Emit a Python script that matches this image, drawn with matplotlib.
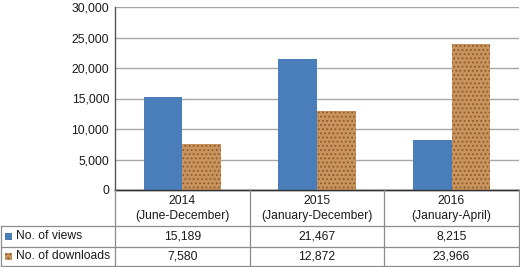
import matplotlib
matplotlib.use("Agg")
import matplotlib.pyplot as plt
from matplotlib.patches import Rectangle
import numpy as np

plt.rcParams['font.family'] = ['Liberation Sans', 'DejaVu Sans']
plt.rcParams['hatch.linewidth'] = 0.8

categories = ["2014\n(June-December)", "2015\n(January-December)", "2016\n(January-April)"]
series_names = ["No. of views", "No. of downloads"]
views = [15189, 21467, 8215]
downloads = [7580, 12872, 23966]
yticks = [0, 5000, 10000, 15000, 20000, 25000, 30000]

blue = '#4a7ebb'
cork = '#c8935c'
cork_dark = '#8a5a30'
grid_c = '#8c8c8c'
txt_c = '#1a1a1a'
fs = 8.7

W, H = 520, 267
fig = plt.figure(figsize=(W/100, H/100), dpi=100)
ax_l, ax_r, ax_t, ax_b = 115, 519, 7, 190
ax = fig.add_axes([ax_l/W, 1-ax_b/H, (ax_r-ax_l)/W, (ax_b-ax_t)/H])

x = np.arange(len(categories))
w = 0.287
ax.bar(x - w/2, views, width=w, color=blue, edgecolor='none', zorder=3)
ax.bar(x + w/2, downloads, width=w, color=cork, edgecolor=cork_dark, hatch='....', linewidth=0, zorder=3)

ax.set_xlim(-0.5, len(categories) - 0.5)
ax.set_ylim(0, 30000)
ax.set_yticks(yticks)
ax.set_yticklabels([f"{v:,}" for v in yticks], fontsize=fs, color=txt_c)
ax.set_xticks([])
ax.tick_params(axis='y', length=0, pad=4.2)
ax.yaxis.grid(True, color='#a6a6a6', linewidth=1.0, zorder=0)
for s in ['top', 'right']:
    ax.spines[s].set_visible(False)
ax.spines['left'].set_color('#555555')
ax.spines['left'].set_linewidth(1.0)
ax.spines['bottom'].set_color('#333333')
ax.spines['bottom'].set_linewidth(1.0)

# data table below, drawn in a pixel-coordinate axes
tax = fig.add_axes([0, 0, 1, 1])
tax.set_xlim(0, W)
tax.set_ylim(H, 0)
tax.set_axis_off()
tax.patch.set_alpha(0)

row_tops = [190, 226, 246.5, 266]
col_edges = [0.5, 115, 249.5, 384, 518.5]
lw = 0.9
tax.plot([col_edges[1], col_edges[-1]], [row_tops[0]]*2, color='#333333', lw=1.0)
for yy in row_tops[1:]:
    tax.plot([col_edges[0], col_edges[-1]], [yy]*2, color=grid_c, lw=lw)
for i, xx in enumerate(col_edges):
    y0 = row_tops[1] if i == 0 else row_tops[0]
    tax.plot([xx, xx], [y0, row_tops[-1]], color=grid_c, lw=lw)

for j, cat in enumerate(categories):
    xc = (col_edges[j+1] + col_edges[j+2]) / 2
    tax.text(xc, (row_tops[0] + row_tops[1]) / 2 + 0.5, cat, ha='center', va='center',
             fontsize=fs, color=txt_c, linespacing=1.3)

series = [views, downloads]
colors = [blue, cork]
hatches = [None, '....']
for i, (name, vals) in enumerate(zip(series_names, series)):
    yc = (row_tops[i+1] + row_tops[i+2]) / 2
    tax.add_patch(Rectangle((5, yc - 3.5), 7, 7, facecolor=colors[i],
                            edgecolor=cork_dark if i else 'none', hatch=hatches[i], linewidth=0))
    tax.text(16, yc, name, ha='left', va='center', fontsize=fs, color=txt_c)
    for j, v in enumerate(vals):
        xc = (col_edges[j+1] + col_edges[j+2]) / 2
        tax.text(xc, yc, f"{v:,}", ha='center', va='center', fontsize=fs, color=txt_c)

fig.savefig("out.png", dpi=100)
